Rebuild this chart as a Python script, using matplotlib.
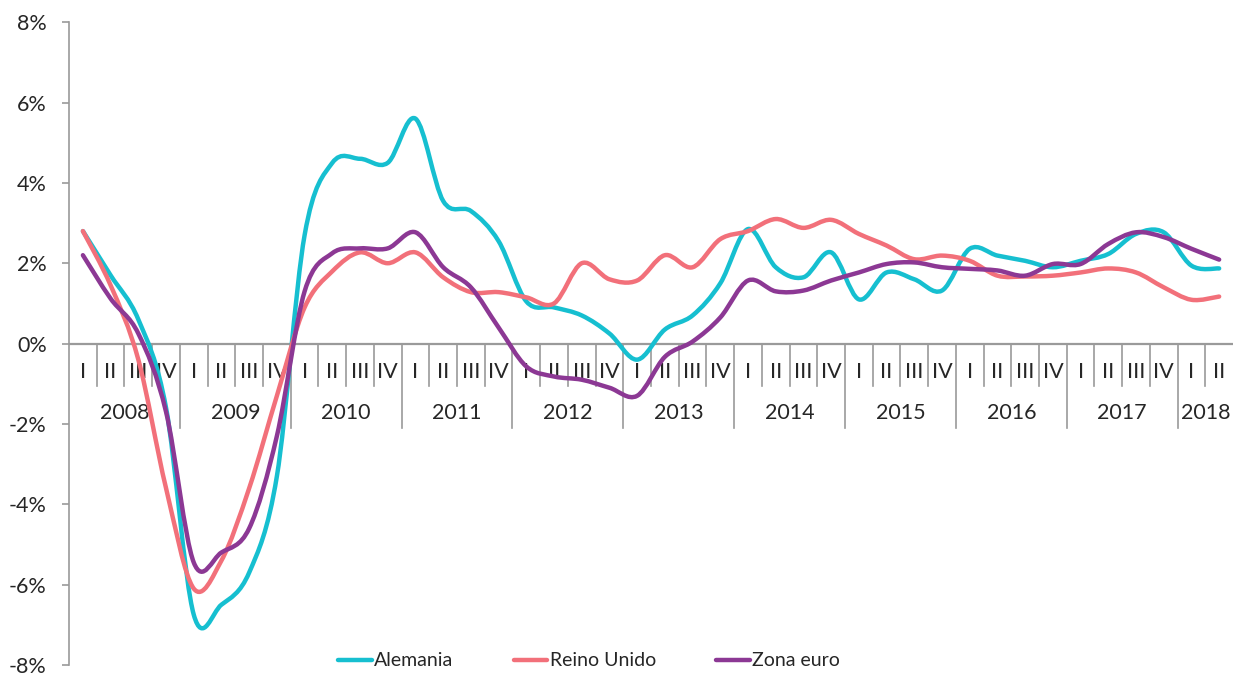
import numpy as np
import matplotlib.pyplot as plt
from matplotlib.path import Path
from matplotlib.patches import PathPatch
from matplotlib.lines import Line2D

plt.rcParams['font.family'] = ['Lato', 'DejaVu Sans']

# quarterly values, 2008 Q1 .. 2018 Q2 (%)
years = ['2008', '2009', '2010', '2011', '2012', '2013', '2014', '2015', '2016', '2017', '2018']
quarters = ['I', 'II', 'III', 'IV']
alemania = [2.8, 1.7, 0.6, -1.6, -6.75, -6.5, -5.7, -3.3, 2.7, 4.5, 4.6, 4.5,
            5.6, 3.55, 3.3, 2.55, 1.05, 0.9, 0.7, 0.25, -0.4, 0.35, 0.7, 1.5,
            2.85, 1.9, 1.65, 2.27, 1.1, 1.77, 1.6, 1.32, 2.36, 2.19, 2.06, 1.9,
            2.06, 2.23, 2.73, 2.77, 1.94, 1.87]
reino_unido = [2.8, 1.45, -0.4, -3.6, -6.1, -5.4, -3.6, -1.3, 0.9, 1.8, 2.27, 2.0,
               2.27, 1.65, 1.28, 1.28, 1.15, 1.0, 2.0, 1.6, 1.57, 2.2, 1.9, 2.6,
               2.8, 3.1, 2.88, 3.08, 2.73, 2.44, 2.1, 2.19, 2.06, 1.69, 1.67, 1.69,
               1.77, 1.87, 1.77, 1.4, 1.09, 1.17]
zona_euro = [2.2, 1.12, 0.25, -1.7, -5.45, -5.2, -4.6, -2.3, 1.3, 2.25, 2.37, 2.37,
             2.77, 1.9, 1.4, 0.4, -0.57, -0.82, -0.9, -1.1, -1.3, -0.33, 0.05, 0.65,
             1.57, 1.3, 1.32, 1.57, 1.77, 1.98, 2.02, 1.9, 1.86, 1.82, 1.69, 1.98,
             1.98, 2.48, 2.77, 2.65, 2.36, 2.09]

series = [('Alemania', alemania, '#16BFD0'),
          ('Reino Unido', reino_unido, '#F2707A'),
          ('Zona euro', zona_euro, '#8C3894')]


def smooth_path(x, y):
    # excel-like smoothed line: cubic bezier through every point
    p = np.column_stack([x, y])
    pad = np.vstack([p[:1], p, p[-1:]])
    verts = [p[0]]
    codes = [Path.MOVETO]
    for i in range(len(p) - 1):
        p0, p1, p2, p3 = pad[i], pad[i + 1], pad[i + 2], pad[i + 3]
        verts += [p1 + (p2 - p0) / 6, p2 - (p3 - p1) / 6, p2]
        codes += [Path.CURVE4] * 3
    return Path(verts, codes)


fig = plt.figure(figsize=(12.33, 6.73), dpi=100)
ax = fig.add_axes([0.056, 0.012, 0.944, 0.955])

n = len(alemania)
x = np.arange(n)
grey = '#9a9a9a'
txt = '#262626'
fs = 15.5

# category axis drawn at zero
ax.axhline(0, color=grey, lw=1.6, zorder=2)
for k in range(1, n):
    if k % 4 == 0:
        ax.plot([k - 0.5, k - 0.5], [0, -2.1], color=grey, lw=1.2, zorder=2)
    else:
        ax.plot([k - 0.5, k - 0.5], [0, -1.05], color=grey, lw=1.2, zorder=2)
for i in range(n):
    ax.text(i, -0.72, quarters[i % 4], ha='center', va='center', fontsize=fs, color=txt, zorder=3)
for j, yr in enumerate(years):
    first = j * 4
    last = min(first + 3, n - 1)
    ax.text((first + last) / 2, -1.74, yr, ha='center', va='center', fontsize=fs, color=txt, zorder=3)

for name, vals, col in series:
    ax.add_patch(PathPatch(smooth_path(x, vals), facecolor='none', edgecolor=col,
                           lw=3.2, capstyle='round', joinstyle='round', zorder=4))

ax.set_xlim(-0.5, n - 0.5)
ax.set_ylim(-8, 8)
ax.set_yticks(np.arange(-8, 9, 2))
ax.set_yticklabels([f'{v}%' for v in range(-8, 9, 2)])
ax.tick_params(axis='y', length=5, width=1.2, color=grey, pad=11, labelsize=fs, labelcolor=txt)
ax.set_xticks([])
for s in ['top', 'right', 'bottom']:
    ax.spines[s].set_visible(False)
ax.spines['left'].set_color(grey)
ax.spines['left'].set_linewidth(1.2)

handles = [Line2D([], [], color=c, lw=3.2, solid_capstyle='round') for _, _, c in series]
fig.legend(handles, [s[0] for s in series], loc='center', bbox_to_anchor=(0.478, 0.018),
           ncol=3, frameon=False, fontsize=14, handlelength=1.7, handletextpad=0.15,
           columnspacing=3.1, labelcolor=txt)

fig.savefig('out.png', dpi=100)
